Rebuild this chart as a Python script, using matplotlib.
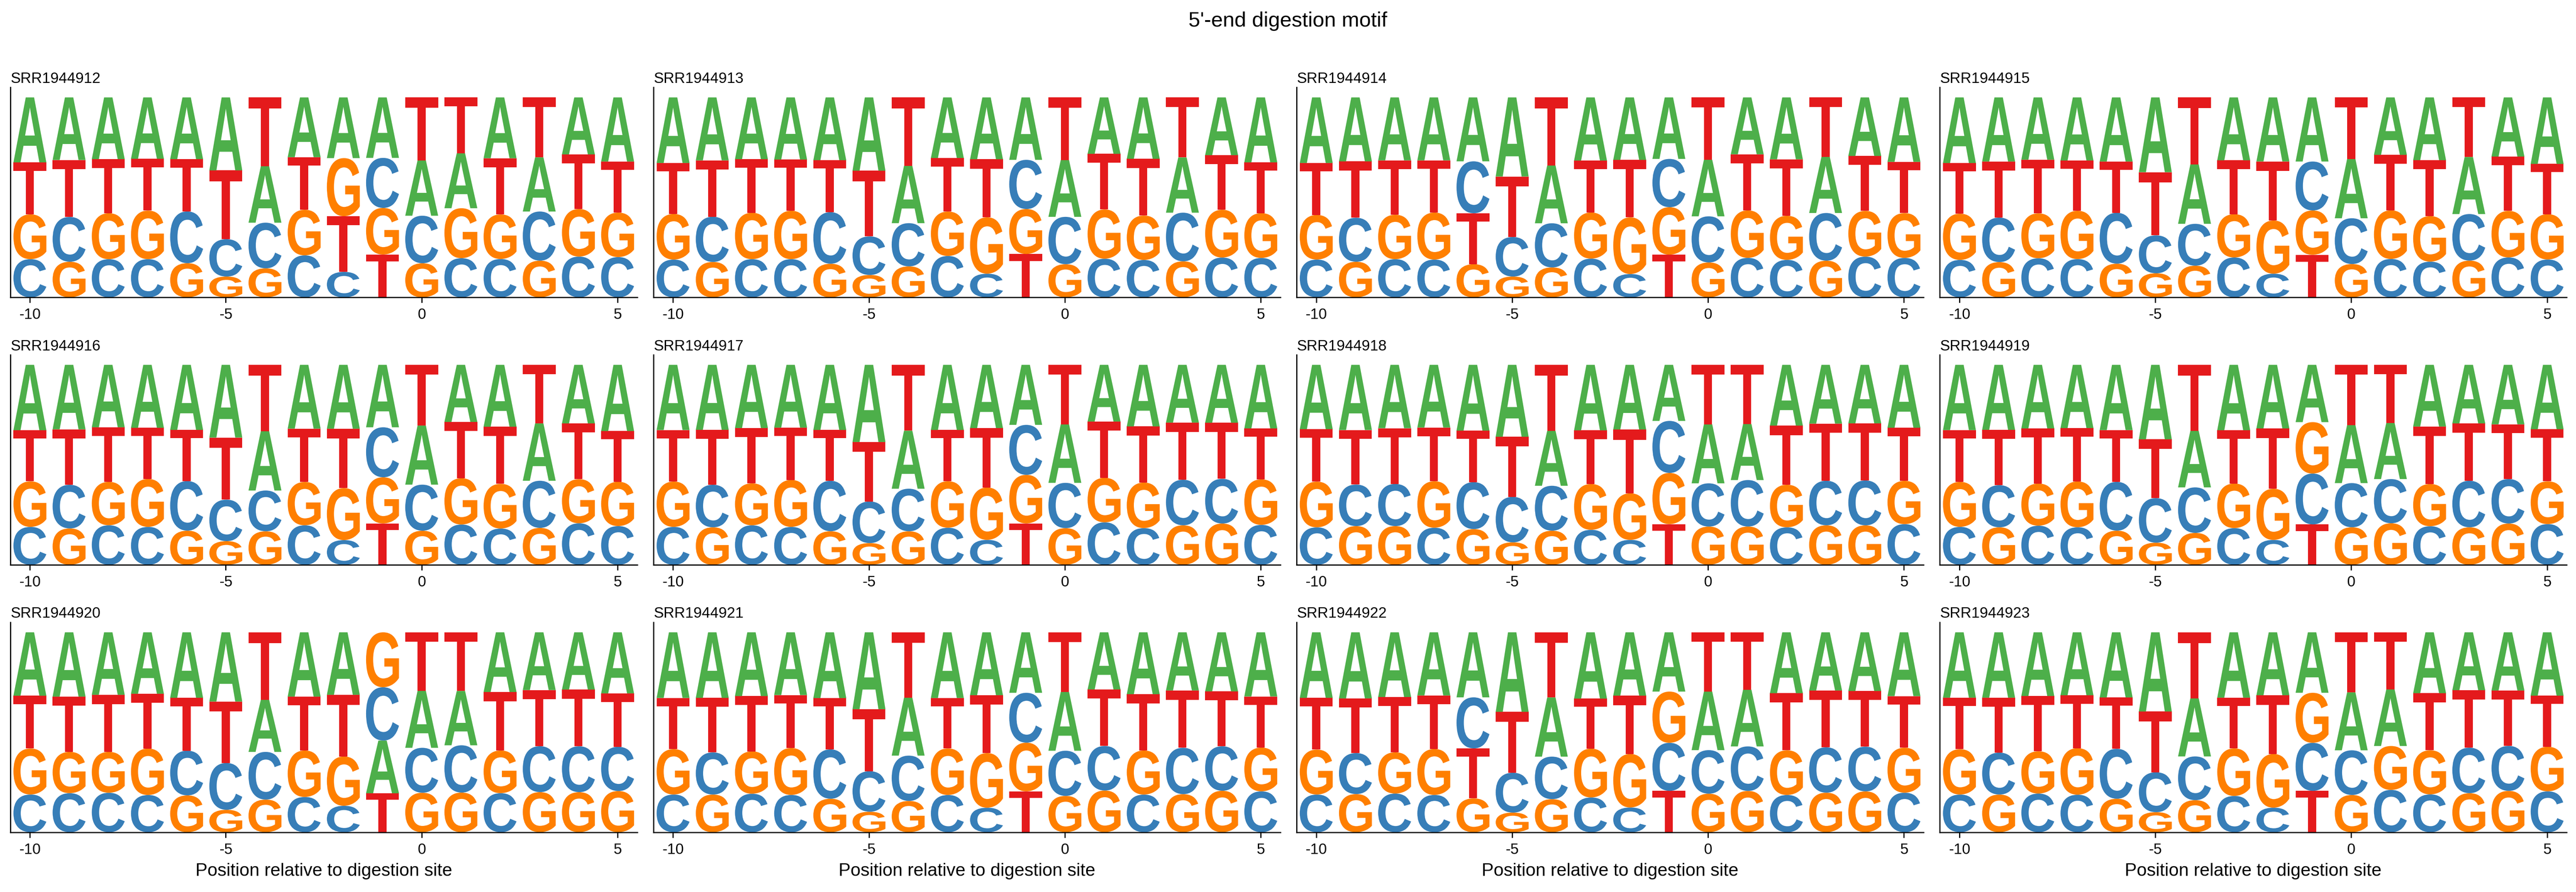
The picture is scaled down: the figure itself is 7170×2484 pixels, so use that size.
import matplotlib
matplotlib.use("Agg")
import matplotlib.pyplot as plt
import matplotlib.transforms as mtransforms
from matplotlib.textpath import TextPath
from matplotlib.patches import PathPatch
from matplotlib.font_manager import FontProperties
import numpy as np

plt.rcParams['font.family'] = ['Liberation Sans', 'DejaVu Sans']
plt.rcParams['axes.unicode_minus'] = False

samples = ['SRR1944912', 'SRR1944913', 'SRR1944914', 'SRR1944915',
           'SRR1944916', 'SRR1944917', 'SRR1944918', 'SRR1944919',
           'SRR1944920', 'SRR1944921', 'SRR1944922', 'SRR1944923']
positions = list(range(-10, 6))

prob_A = [
    [.325, .313, .309, .307, .309, .365, .282, .299, .303, .301, .276, .274, .303, .270, .284, .320],
    [.328, .315, .309, .311, .314, .367, .287, .303, .309, .311, .284, .282, .307, .276, .289, .325],
    [.328, .320, .315, .315, .320, .396, .288, .315, .311, .307, .282, .284, .309, .280, .292, .322],
    [.328, .320, .311, .315, .320, .373, .297, .314, .320, .321, .295, .286, .313, .284, .295, .332],
    [.326, .321, .311, .314, .324, .363, .296, .318, .318, .311, .295, .285, .309, .286, .292, .330],
    [.325, .324, .315, .313, .324, .384, .289, .325, .315, .299, .292, .283, .307, .288, .289, .317],
    [.321, .325, .316, .313, .328, .359, .274, .326, .322, .280, .295, .280, .303, .293, .292, .314],
    [.325, .324, .317, .315, .325, .371, .282, .326, .317, .285, .289, .280, .307, .292, .297, .321],
    [.316, .321, .312, .307, .327, .346, .260, .321, .312, .264, .284, .271, .298, .288, .286, .304],
    [.327, .327, .318, .313, .328, .383, .289, .328, .313, .302, .293, .285, .309, .290, .295, .320],
    [.327, .329, .323, .315, .325, .397, .295, .330, .315, .295, .292, .283, .304, .290, .293, .318],
    [.326, .326, .318, .314, .325, .395, .290, .326, .313, .301, .289, .282, .304, .289, .290, .316],
]
prob_C = [
    [.191, .224, .191, .191, .259, .187, .228, .210, .127, .249, .237, .195, .191, .245, .203, .201],
    [.189, .226, .191, .191, .258, .193, .216, .207, .118, .245, .237, .193, .187, .243, .199, .197],
    [.189, .220, .191, .189, .260, .198, .220, .193, .116, .241, .230, .197, .187, .238, .203, .197],
    [.187, .222, .195, .191, .254, .189, .209, .199, .118, .245, .228, .191, .178, .232, .199, .189],
    [.189, .217, .197, .189, .247, .207, .203, .197, .123, .249, .230, .201, .181, .235, .207, .193],
    [.189, .212, .197, .189, .251, .207, .212, .185, .124, .249, .226, .212, .183, .227, .223, .199],
    [.187, .207, .210, .185, .234, .227, .224, .174, .124, .260, .216, .232, .187, .222, .224, .203],
    [.189, .210, .195, .187, .243, .222, .227, .183, .124, .253, .220, .220, .192, .232, .222, .203],
    [.188, .195, .197, .186, .223, .234, .238, .176, .132, .267, .224, .236, .195, .229, .229, .220],
    [.188, .210, .192, .186, .246, .202, .226, .186, .122, .249, .225, .222, .188, .231, .222, .204],
    [.188, .204, .193, .186, .255, .199, .212, .173, .123, .239, .217, .222, .186, .226, .223, .197],
    [.188, .209, .193, .187, .249, .199, .218, .181, .122, .239, .223, .211, .189, .227, .224, .204],
]
prob_G = [
    [.224, .178, .230, .243, .171, .104, .145, .228, .290, .232, .170, .249, .222, .183, .237, .222],
    [.228, .177, .232, .242, .168, .112, .155, .222, .282, .224, .166, .246, .222, .180, .239, .224],
    [.223, .178, .222, .235, .166, .104, .149, .230, .282, .237, .174, .237, .220, .183, .228, .224],
    [.231, .176, .224, .241, .168, .120, .158, .216, .266, .222, .166, .242, .227, .183, .232, .226],
    [.227, .181, .216, .239, .170, .118, .167, .216, .259, .230, .170, .231, .223, .184, .220, .221],
    [.226, .187, .209, .234, .167, .108, .167, .232, .261, .242, .183, .222, .227, .197, .206, .227],
    [.228, .193, .193, .232, .178, .112, .170, .228, .232, .256, .191, .191, .212, .197, .197, .216],
    [.224, .187, .210, .228, .170, .110, .159, .222, .255, .256, .187, .207, .210, .187, .206, .213],
    [.229, .206, .204, .232, .184, .112, .163, .232, .246, .275, .197, .198, .213, .200, .200, .205],
    [.226, .188, .211, .234, .167, .102, .156, .232, .272, .243, .181, .208, .220, .190, .207, .218],
    [.224, .190, .206, .229, .169, .098, .165, .243, .266, .255, .192, .206, .223, .197, .204, .224],
    [.226, .188, .211, .232, .167, .100, .160, .237, .267, .249, .186, .219, .220, .195, .206, .222],
]
prob_T = [
    [.260, .285, .271, .259, .262, .344, .344, .263, .278, .213, .314, .278, .280, .299, .272, .255],
    [.255, .282, .268, .256, .260, .329, .342, .268, .290, .216, .314, .278, .284, .300, .273, .254],
    [.260, .282, .272, .261, .255, .303, .339, .259, .286, .213, .311, .280, .282, .297, .274, .256],
    [.253, .280, .268, .251, .256, .315, .334, .269, .295, .213, .307, .276, .279, .297, .271, .251],
    [.255, .276, .272, .255, .255, .310, .330, .266, .296, .206, .303, .281, .285, .292, .278, .253],
    [.257, .274, .276, .261, .253, .296, .328, .256, .296, .206, .297, .281, .280, .285, .280, .254],
    [.262, .272, .278, .268, .257, .300, .329, .267, .318, .203, .297, .295, .295, .285, .285, .265],
    [.258, .276, .275, .266, .258, .293, .329, .266, .301, .201, .300, .289, .286, .286, .273, .260],
    [.263, .276, .285, .274, .264, .307, .337, .269, .308, .195, .292, .293, .292, .280, .283, .266],
    [.255, .272, .276, .264, .256, .309, .326, .252, .288, .204, .297, .282, .281, .286, .274, .255],
    [.258, .272, .276, .267, .250, .304, .325, .249, .290, .206, .295, .286, .285, .283, .278, .257],
    [.257, .274, .276, .264, .256, .303, .329, .253, .292, .206, .300, .285, .285, .287, .276, .255],
]

bases = ['A', 'C', 'G', 'T']
colors = {'A': '#4daf4a', 'C': '#377eb8', 'G': '#ff7f00', 'T': '#e41a1c'}
glyph_font = FontProperties(family='Liberation Sans', weight='bold')


def draw_glyph(ax, letter, x, floor, height, color, width=0.84):
    # stretch the letter outline so it fills the box exactly
    tp = TextPath((0, 0), letter, size=1, prop=glyph_font)
    bb = tp.get_extents()
    tr = (mtransforms.Affine2D()
          .translate(-bb.x0, -bb.y0)
          .scale(width / bb.width, height / bb.height)
          .translate(x - width / 2, floor))
    ax.add_patch(PathPatch(tr.transform_path(tp), facecolor=color,
                           edgecolor='none', linewidth=0))


def draw_logo(ax, i):
    mat = np.array([prob_A[i], prob_C[i], prob_G[i], prob_T[i]], dtype=float)
    mat = mat / mat.sum(axis=0)
    for j, p in enumerate(positions):
        col = mat[:, j]
        order = np.argsort(col)  # small at bottom, big on top
        floor = 0.0
        for k in order:
            draw_glyph(ax, bases[k], p, floor, col[k], colors[bases[k]])
            floor += col[k]


fig, axes = plt.subplots(3, 4, figsize=(23.9, 8.28))
plt.subplots_adjust(left=0.004, right=0.9964, top=0.902, bottom=0.067,
                    wspace=0.026, hspace=0.274)

for i, ax in enumerate(axes.flat):
    draw_logo(ax, i)
    ax.set_xlim(-10.5, 5.5)
    ax.set_ylim(0, 1.05)
    ax.set_xticks([-10, -5, 0, 5])
    ax.set_yticks([])
    ax.tick_params(axis='x', labelsize=10)
    for side in ['top', 'right']:
        ax.spines[side].set_visible(False)
    ax.set_title(samples[i], loc='left', fontsize=10, pad=3)
    if i >= 8:
        ax.set_xlabel('Position relative to digestion site', fontsize=12)

fig.suptitle("5'-end digestion motif", fontsize=14, y=0.987)
plt.savefig('out.png', dpi=300)
